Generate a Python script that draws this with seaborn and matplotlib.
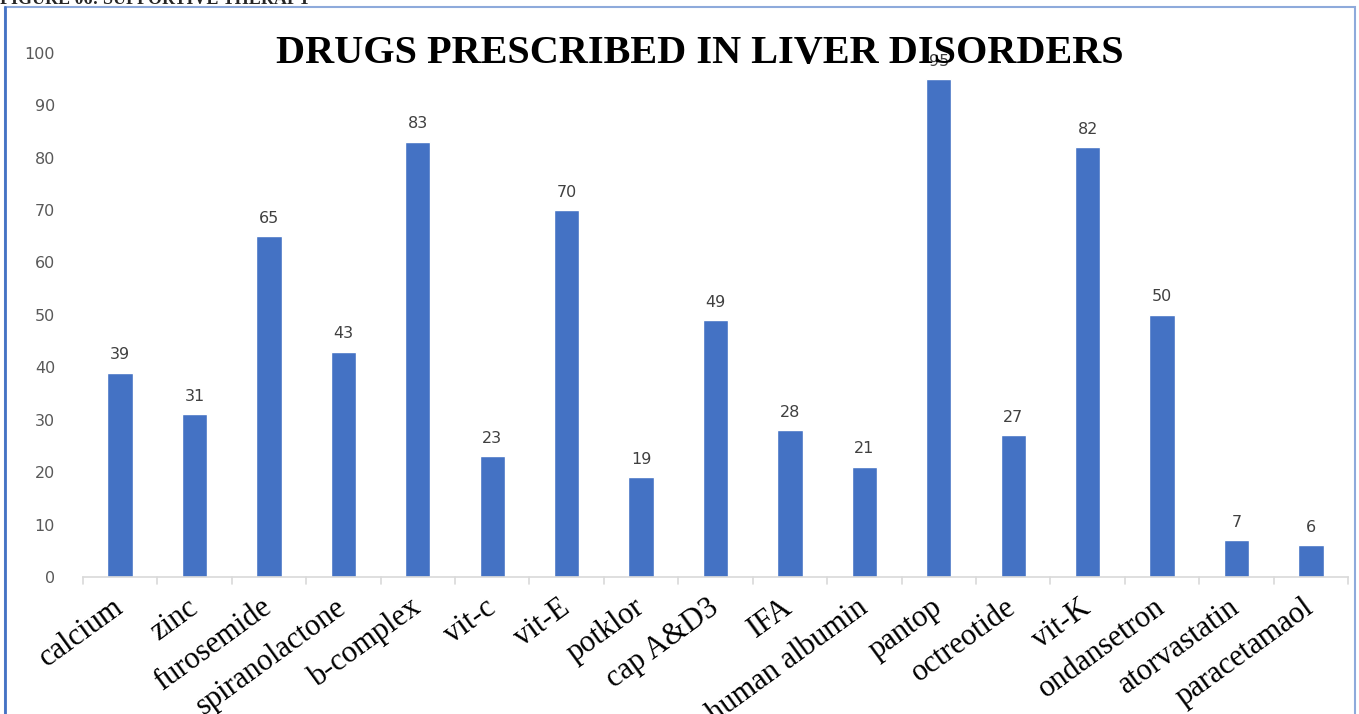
import matplotlib
matplotlib.use("Agg")
import matplotlib.pyplot as plt
import seaborn as sns
import pandas as pd
from matplotlib.patches import Rectangle
from matplotlib.lines import Line2D

drugs = ["calcium", "zinc", "furosemide", "spiranolactone", "b-complex", "vit-c",
         "vit-E", "potklor", "cap A&D3", "IFA", "human albumin", "pantop",
         "octreotide", "vit-K", "ondansetron", "atorvastatin", "paracetamaol"]
counts = [39, 31, 65, 43, 83, 23, 70, 19, 49, 28, 21, 95, 27, 82, 50, 7, 6]
y_ticks = [0, 10, 20, 30, 40, 50, 60, 70, 80, 90, 100]

df = pd.DataFrame({"drug": drugs, "count": counts})

sns.set_theme(style="white")
plt.rcParams["font.family"] = ["DejaVu Sans"]

fig = plt.figure(figsize=(13.59, 7.14), dpi=100)
ax = fig.add_axes([0.061, 0.192, 0.931, 0.734])

sns.barplot(data=df, x="drug", y="count", color="#4472C4", saturation=1,
            width=0.34, ax=ax)

ax.set_ylim(0, 100)
ax.set_xlim(-0.5, len(drugs) - 0.5)
ax.set_yticks(y_ticks)
ax.set_yticklabels([str(t) for t in y_ticks], color="#595959", fontsize=11.5)
ax.tick_params(axis="y", length=0, pad=20)
ax.set_xlabel("")
ax.set_ylabel("")

# category labels, rotated serif text
ax.set_xticks(range(len(drugs)))
ax.set_xticklabels(drugs, rotation=36, ha="right", va="center",
                   rotation_mode="anchor", fontsize=22,
                   family="Liberation Serif", color="black")
ax.tick_params(axis="x", length=0, pad=20)

# tick marks between categories
for b in range(len(drugs) + 1):
    ax.add_line(Line2D([b - 0.5, b - 0.5], [0, -1.3], color="#D9D9D9",
                       lw=1.2, clip_on=False))

for s in ["top", "right", "left"]:
    ax.spines[s].set_visible(False)
ax.spines["bottom"].set_color("#D9D9D9")
ax.spines["bottom"].set_linewidth(1.2)

# value labels
for i, v in enumerate(counts):
    ax.text(i, v + 2, str(v), ha="center", va="bottom", fontsize=11.5,
            color="#404040")

fig.text(700 / 1359, 1 - 53 / 714, "DRUGS PRESCRIBED IN LIVER DISORDERS",
         ha="center", va="center", fontsize=29, fontweight="bold",
         family="Liberation Serif", color="black")

# chart frame
fig.add_artist(Rectangle((5 / 1359, -0.05), 1350 / 1359, 1.05 - 7 / 714,
                         transform=fig.transFigure, fill=False,
                         edgecolor="#8EAADB", lw=1.5))
fig.add_artist(Line2D([5 / 1359, 5 / 1359], [0, 1 - 7 / 714],
                      transform=fig.transFigure, color="#4472C4", lw=2))
fig.text(0.0, 1.0, "FIGURE 06: SUPPORTIVE THERAPY", ha="left",
         va="center", fontsize=13, fontweight="bold", family="Liberation Serif")

fig.savefig("out.png", dpi=100)
